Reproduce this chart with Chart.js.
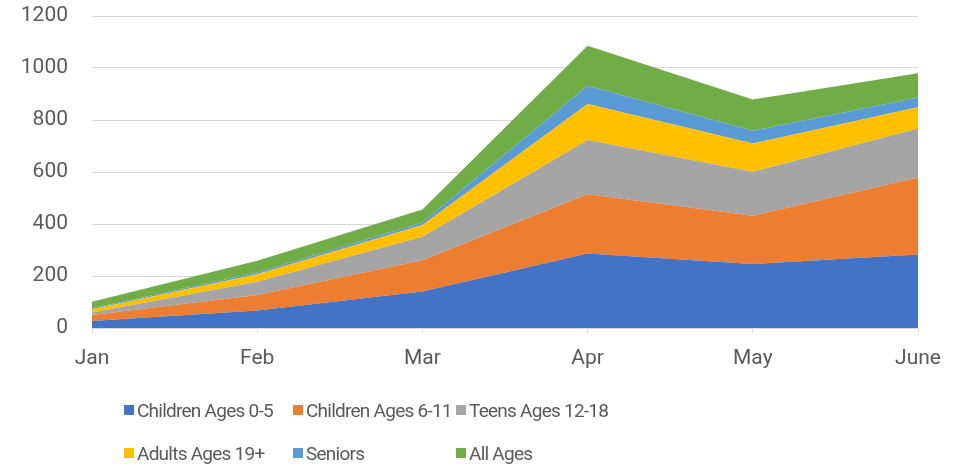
<!DOCTYPE html>
<html lang="en">
<head>
    <meta charset="UTF-8">
    <title>Stacked Area by Age Group</title>
    <script src="https://cdn.jsdelivr.net/npm/chart.js"></script>
    <style>
        body { margin: 0; background: #fff; }
        #wrap { position: relative; width: 967px; height: 470px; }
        #legend {
            position: absolute; left: 124px; top: 397px;
            display: grid; grid-template-columns: 169px 163px 200px;
            row-gap: 17px;
            font-family: Roboto, sans-serif; font-size: 19px; letter-spacing: -0.75px; color: #595959;
        }
        .item { display: flex; align-items: center; white-space: nowrap; height: 26px; }
        .box { width: 10px; height: 10px; margin-right: 3px; flex: none; }
    </style>
</head>
<body>
<div id="wrap">
    <canvas id="myChart" width="967" height="470"></canvas>
    <div id="legend"></div>
</div>
<script>
    // categories and series
    const months = ['Jan', 'Feb', 'Mar', 'Apr', 'May', 'June'];
    const children0to5  = [27, 67, 140, 287, 246, 283];
    const children6to11 = [23, 60, 121, 227, 186, 296];
    const teens12to18   = [10, 51, 90, 209, 169, 188];
    const adults19plus  = [12, 29, 45, 139, 109, 82];
    const seniors       = [4, 6, 10, 70, 49, 38];
    const allAges       = [25, 46, 50, 154, 120, 93];
    const yTicks = [0, 200, 400, 600, 800, 1000, 1200];

    const series = [
        { label: 'Children Ages 0-5', data: children0to5, color: '#4472C4' },
        { label: 'Children Ages 6-11', data: children6to11, color: '#ED7D31' },
        { label: 'Teens Ages 12-18', data: teens12to18, color: '#A5A5A5' },
        { label: 'Adults Ages 19+', data: adults19plus, color: '#FFC000' },
        { label: 'Seniors', data: seniors, color: '#5B9BD5' },
        { label: 'All Ages', data: allAges, color: '#70AD47' }
    ];

    const font = { family: 'Roboto, sans-serif', size: 21 };

    const ctx = document.getElementById('myChart').getContext('2d');
    new Chart(ctx, {
        type: 'line',
        data: {
            labels: months,
            datasets: series.map((s, i) => ({
                label: s.label,
                data: s.data,
                backgroundColor: s.color,
                borderColor: s.color,
                borderWidth: 0,
                pointRadius: 0,
                tension: 0,
                fill: i === 0 ? 'origin' : '-1'
            }))
        },
        options: {
            responsive: false,
            animation: false,
            layout: { padding: { top: 16, right: 49, left: 0, bottom: 0 } },
            plugins: { legend: { display: false }, tooltip: { enabled: false } },
            scales: {
                x: {
                    offset: false,
                    grid: { drawOnChartArea: false, drawTicks: true, tickLength: 5, color: '#d9d9d9' },
                    border: { color: '#d9d9d9', width: 1 },
                    ticks: { color: '#595959', font: font, padding: 13, maxRotation: 0 },
                    afterFit: scale => {
                        scale.height = 142;
                        scale.paddingLeft = 0;
                        scale.paddingRight = 0;
                    }
                },
                y: {
                    stacked: true,
                    min: yTicks[0],
                    max: yTicks[yTicks.length - 1],
                    afterBuildTicks: scale => { scale.ticks = yTicks.map(v => ({ value: v })); },
                    grid: { drawTicks: false, color: '#d9d9d9' },
                    border: { display: false },
                    ticks: { color: '#595959', font: font, padding: 24, callback: v => String(v) },
                    afterFit: scale => {
                        scale.width = 92;
                        scale.paddingTop = 0;
                        scale.paddingBottom = 0;
                    }
                }
            }
        }
    });

    // legend laid out in fixed columns like the original
    const legend = document.getElementById('legend');
    series.forEach(s => {
        const item = document.createElement('div');
        item.className = 'item';
        item.innerHTML = '<span class="box" style="background:' + s.color + '"></span><span>' + s.label + '</span>';
        legend.appendChild(item);
    });
</script>
</body>
</html>
